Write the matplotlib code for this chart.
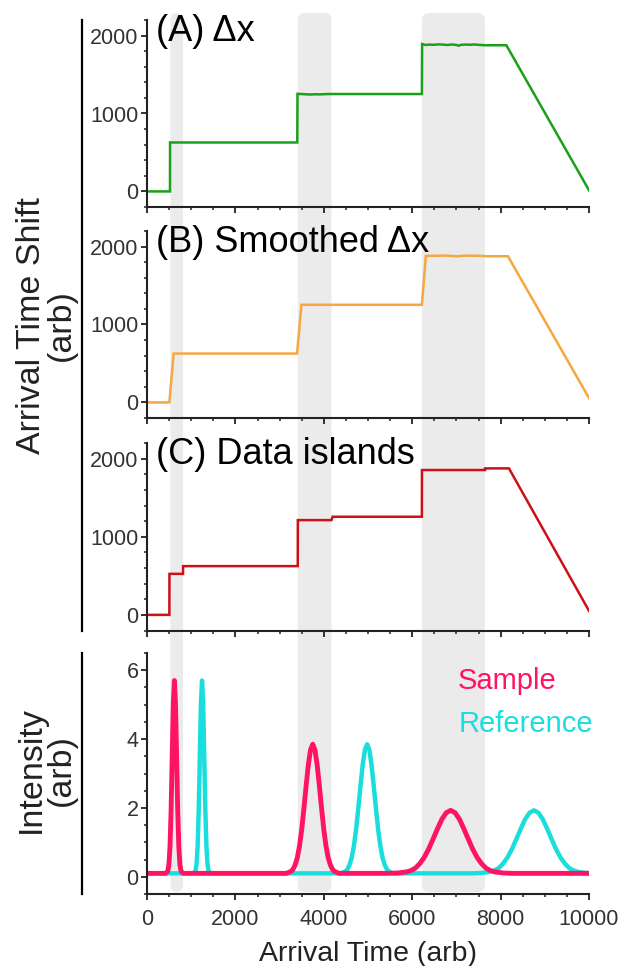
import matplotlib
matplotlib.use("Agg")
import matplotlib.pyplot as plt
from matplotlib.patches import FancyBboxPatch
from matplotlib.lines import Line2D
from matplotlib.transforms import IdentityTransform
from matplotlib.ticker import MultipleLocator

plt.rcParams['font.family'] = ['Liberation Sans', 'DejaVu Sans']

# shift traces (arrival time vs. shift)
dx_time = [0, 520, 522, 3400, 3405, 3500, 3600, 3700, 3800, 3900, 4000, 4100, 4150,
           6220, 6224, 6300, 6400, 6500, 6600, 6700, 6800, 6900, 7000, 7050, 7100,
           7200, 7300, 7400, 7500, 7600, 7650, 8130, 10000]
dx_shift = [0, 0, 628, 628, 1252, 1250, 1246, 1244, 1247, 1245, 1248, 1250, 1250,
            1250, 1892, 1880, 1884, 1882, 1887, 1884, 1879, 1886, 1880, 1870, 1881,
            1885, 1882, 1886, 1881, 1878, 1876, 1876, 15]

smooth_time = [0, 506, 603, 3396, 3494, 6219, 6309, 6500, 6700, 6900, 7000, 7100,
               7300, 7500, 7700, 8166, 10000]
smooth_shift = [0, 0, 627, 627, 1253, 1253, 1880, 1882, 1885, 1880, 1874, 1881,
                1884, 1882, 1876, 1876, 56]

island_time = [0, 506, 508, 815, 817, 3411, 3413, 4174, 4200, 6219, 6221, 7646,
               7648, 8189, 10000]
island_shift = [0, 0, 525, 525, 624, 624, 1213, 1213, 1256, 1256, 1854, 1854,
                1875, 1875, 52]

# data islands
islands = [(530, 815), (3411, 4174), (6220, 7646)]

# peak profiles: offset from peak centre and intensity
narrow_dx = [-200, -150, -125, -100, -75, -50, -25, 0, 25, 50, 75, 100, 125, 150, 200]
narrow_y = [0.10, 0.16, 0.35, 0.86, 1.92, 3.50, 5.04, 5.70, 5.04, 3.50, 1.92, 0.86,
            0.35, 0.16, 0.10]
medium_dx = [-600, -500, -450, -400, -350, -300, -250, -200, -150, -100, -50, 0,
             50, 100, 150, 200, 250, 300, 350, 400, 450, 500, 600]
medium_y = [0.10, 0.15, 0.21, 0.34, 0.55, 0.89, 1.37, 1.98, 2.64, 3.25, 3.69, 3.85,
            3.69, 3.25, 2.64, 1.98, 1.37, 0.89, 0.55, 0.34, 0.21, 0.15, 0.10]
wide_dx = [-1400, -1200, -1000, -900, -800, -700, -600, -500, -400, -300, -200, -100,
           0, 100, 200, 300, 400, 500, 600, 700, 800, 900, 1000, 1200, 1400]
wide_y = [0.10, 0.11, 0.14, 0.18, 0.25, 0.38, 0.56, 0.80, 1.09, 1.39, 1.67, 1.86,
          1.93, 1.86, 1.67, 1.39, 1.09, 0.80, 0.56, 0.38, 0.25, 0.18, 0.14, 0.11, 0.10]

sample_centres = [620, 3750, 6870]
reference_centres = [1245, 4980, 8755]
baseline = 0.1


def build_trace(centres):
    xs, ys = [0], [baseline]
    for c, (pdx, py) in zip(centres, [(narrow_dx, narrow_y), (medium_dx, medium_y),
                                      (wide_dx, wide_y)]):
        xs += [c + d for d in pdx]
        ys += list(py)
    xs.append(10000)
    ys.append(baseline)
    return xs, ys


W, H = 631, 966
fig = plt.figure(figsize=(W / 100, H / 100), dpi=100)

left = 147 / W
width = 442 / W


def px_axes(top, bottom):
    return [left, 1 - bottom / H, width, (bottom - top) / H]


ax_a = fig.add_axes(px_axes(20, 207))
ax_b = fig.add_axes(px_axes(231, 418))
ax_c = fig.add_axes(px_axes(443, 630.5))
ax_d = fig.add_axes(px_axes(653, 894))

spine_col = '#222222'
for ax in (ax_a, ax_b, ax_c, ax_d):
    ax.set_facecolor('none')
    ax.spines['top'].set_visible(False)
    ax.spines['right'].set_visible(False)
    for s in ('left', 'bottom'):
        ax.spines[s].set_linewidth(1.5)
        ax.spines[s].set_color(spine_col)
    ax.set_xlim(0, 10000)
    ax.xaxis.set_major_locator(MultipleLocator(2000))
    ax.xaxis.set_minor_locator(MultipleLocator(500))
    ax.tick_params(which='major', direction='out', length=4, width=1.3,
                   color=spine_col, labelsize=15.5, labelcolor='#333333', pad=2)
    ax.tick_params(which='minor', direction='out', length=2.5, width=1.1,
                   color=spine_col)
    ax.tick_params(axis='x', which='major', pad=6.5)

shift_panels = [
    (ax_a, dx_time, dx_shift, '#1aa01a', '(A) Δx'),
    (ax_b, smooth_time, smooth_shift, '#f5a742', '(B) Smoothed Δx'),
    (ax_c, island_time, island_shift, '#cc1016', '(C) Data islands'),
]
for ax, t, s, col, title in shift_panels:
    ax.plot(t, s, color=col, lw=1.8, solid_joinstyle='miter')
    ax.set_ylim(-200, 2200)
    ax.yaxis.set_major_locator(MultipleLocator(1000))
    ax.yaxis.set_minor_locator(MultipleLocator(200))
    ax.tick_params(axis='x', labelbottom=False)
    ax.text(0.02, 0.888, title, transform=ax.transAxes, fontsize=26,
            va='baseline', ha='left', color='black')

ref_x, ref_y = build_trace(reference_centres)
smp_x, smp_y = build_trace(sample_centres)
ax_d.plot(ref_x, ref_y, color='#1adede', lw=3.2)
ax_d.plot(smp_x, smp_y, color='#ff1462', lw=3.5)
ax_d.set_ylim(-0.5, 6.5)
ax_d.yaxis.set_major_locator(MultipleLocator(2))
ax_d.yaxis.set_minor_locator(MultipleLocator(0.5))
ax_d.set_xlabel('Arrival Time (arb)', fontsize=20.5, color='#222222', labelpad=8)
ax_d.text(0.704, 0.851, 'Sample', transform=ax_d.transAxes, fontsize=21,
          color='#ff1462', va='baseline')
ax_d.text(0.704, 0.672, 'Reference', transform=ax_d.transAxes, fontsize=21,
          color='#1adede', va='baseline')

# grey bands for the data islands, running through all panels
band_top = H - 13
band_bottom = H - 892
for x0, x1 in islands:
    px0 = ax_d.transData.transform((x0, 0))[0]
    px1 = ax_d.transData.transform((x1, 0))[0]
    band = FancyBboxPatch((px0, band_bottom), px1 - px0, band_top - band_bottom,
                          boxstyle='round,pad=0,rounding_size=7',
                          transform=IdentityTransform(), facecolor='#ebebeb',
                          edgecolor='none', zorder=-1)
    fig.add_artist(band)

# bracket lines beside the y labels
bx = 82 / W
fig.add_artist(Line2D([bx, bx], [1 - 20 / H, 1 - 630.5 / H], color='black', lw=1.6))
fig.add_artist(Line2D([bx, bx], [1 - 653 / H, 1 - 894 / H], color='black', lw=1.6))
fig.text(46 / W, 1 - 325 / H, 'Arrival Time Shift\n(arb)', rotation=90,
         ha='center', va='center', multialignment='center', fontsize=24.5,
         color='#222222', linespacing=0.95)
fig.text(46 / W, 1 - 770 / H, 'Intensity\n(arb)', rotation=90,
         ha='center', va='center', multialignment='center', fontsize=24.5,
         color='#222222', linespacing=0.95)

fig.savefig('out.png', dpi=100)
